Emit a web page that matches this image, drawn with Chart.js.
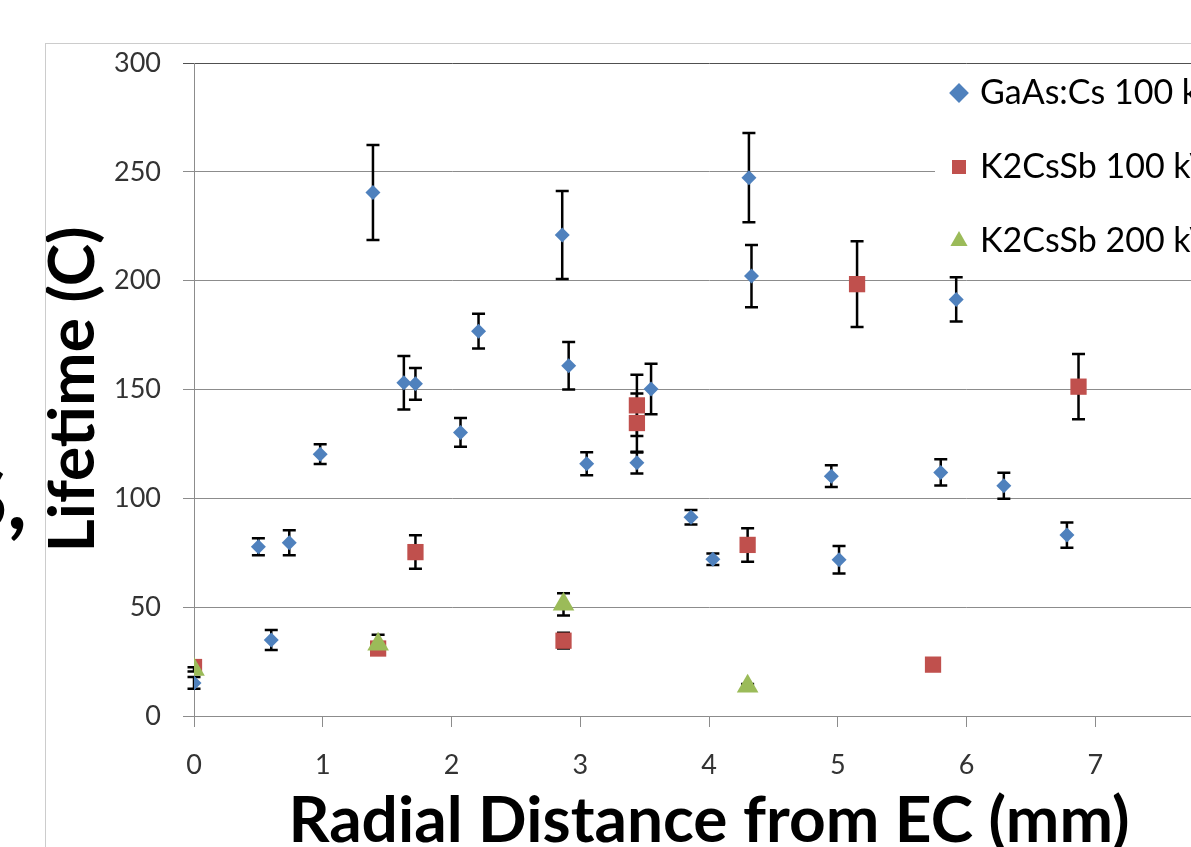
<!DOCTYPE html>
<html lang="en">
<head>
    <meta charset="UTF-8">
    <title>Lifetime vs Radial Distance</title>
    <script src="https://cdn.jsdelivr.net/npm/chart.js"></script>
    <style>
        html, body {
            margin: 0;
            width: 1191px;
            height: 847px;
            overflow: hidden;
            background: #fff;
            font-family: Lato, sans-serif;
        }
        #side {
            position: absolute;
            left: -100px;
            width: 127px;
            top: 455px;
            text-align: right;
            font-size: 84px;
            font-weight: bold;
            line-height: 84px;
            color: #000;
        }
        #wrap {
            position: absolute;
            left: 45px;
            top: 43px;
            border-left: 1px solid #cccccc;
            border-top: 1px solid #cccccc;
        }
        canvas {
            display: block;
        }
    </style>
</head>
<body>

<div id="side">S,</div>
<div id="wrap"><canvas id="myChart" width="1300" height="820"></canvas></div>

<script>
    // GaAs:Cs 100 kV
    const gaasX   = [0.00, 0.50, 0.60, 0.74, 0.98, 1.39, 1.63, 1.72, 2.07, 2.21, 2.86, 2.91, 3.05, 3.44, 3.55, 3.86, 4.03, 4.31, 4.33, 4.95, 5.01, 5.80, 5.92, 6.29, 6.78];
    const gaasY   = [15.2, 77.8, 34.9, 79.6, 120.3, 240.5, 153.1, 152.6, 130.3, 176.8, 221.0, 160.9, 115.9, 116.4, 150.2, 91.3, 72.0, 247.3, 202.1, 110.2, 71.8, 111.9, 191.4, 105.8, 83.1];
    const gaasErr = [2.7, 3.9, 4.6, 5.7, 4.5, 21.8, 12.3, 7.3, 6.6, 8.0, 20.2, 10.9, 5.3, 5.0, 11.6, 3.3, 2.6, 20.5, 14.3, 5.0, 6.3, 6.0, 10.2, 6.0, 5.8];

    // K2CsSb 100 kV
    const k100X   = [0.00, 1.43, 1.72, 2.87, 3.44, 3.44, 4.30, 5.15, 5.74, 6.87];
    const k100Y   = [22.5, 31.0, 75.3, 34.6, 142.7, 134.6, 78.6, 198.4, 23.6, 151.3];
    const k100Err = [0, 2, 7.7, 3.6, 14.1, 13.6, 7.7, 19.7, 0, 15.0];

    // K2CsSb 200 kV
    const k200X   = [0.00, 1.43, 2.87, 4.30];
    const k200Y   = [21.4, 33.0, 51.3, 13.7];
    const k200Err = [1, 4.3, 5.1, 1];

    const seriesNames = ['GaAs:Cs 100 kV', 'K2CsSb 100 kV', 'K2CsSb 200 kV'];
    const xTitle = 'Radial Distance from EC (mm)';
    const yTitle = 'Lifetime (C)';

    function toPoints(xs, ys) {
        return xs.map((x, i) => ({ x: x, y: ys[i] }));
    }

    // error bars, drawn under the markers
    const errorBars = {
        id: 'errorBars',
        beforeDatasetsDraw(chart) {
            const ctx = chart.ctx;
            const yScale = chart.scales.y;
            ctx.save();
            ctx.strokeStyle = '#000';
            ctx.lineWidth = 2.5;
            chart.data.datasets.forEach((ds, i) => {
                const meta = chart.getDatasetMeta(i);
                meta.data.forEach((pt, j) => {
                    const e = ds.errors[j];
                    if (!e) return;
                    const v = ds.data[j].y;
                    const top = yScale.getPixelForValue(v + e);
                    const bot = yScale.getPixelForValue(v - e);
                    ctx.beginPath();
                    ctx.moveTo(pt.x, top);
                    ctx.lineTo(pt.x, bot);
                    ctx.moveTo(pt.x - 6.5, top);
                    ctx.lineTo(pt.x + 6.5, top);
                    ctx.moveTo(pt.x - 6.5, bot);
                    ctx.lineTo(pt.x + 6.5, bot);
                    ctx.stroke();
                });
            });
            ctx.restore();
        }
    };

    // legend sits over the top right of the plot, on a white box
    const LEGEND_BOX_X = 889;
    const LEGEND_BOX_BOTTOM = 218;
    const legendPlacer = {
        id: 'legendPlacer',
        afterInit(chart) {
            const legend = chart.legend;
            const draw = legend.draw.bind(legend);
            legend.draw = function () {
                const ctx = chart.ctx;
                const top = chart.chartArea.top + 1;
                ctx.save();
                ctx.fillStyle = '#fff';
                ctx.fillRect(LEGEND_BOX_X, top, chart.width - LEGEND_BOX_X, LEGEND_BOX_BOTTOM - top);
                ctx.restore();
                draw();
            };
        },
        afterLayout(chart) {
            const lg = chart.legend;
            lg.left = 869;
            lg.top = -8;
            lg.right = chart.width;
            lg.bottom = 400;
            lg.width = lg.right - lg.left;
            lg.height = lg.bottom - lg.top;
        }
    };

    Chart.defaults.font.family = 'Lato';

    const ctx = document.getElementById('myChart').getContext('2d');
    const chart = new Chart(ctx, {
        type: 'scatter',
        data: {
            datasets: [{
                label: seriesNames[0],
                data: toPoints(gaasX, gaasY),
                errors: gaasErr,
                pointStyle: 'rectRot',
                pointRadius: 7.5,
                backgroundColor: '#4F81BD',
                borderColor: '#4F81BD',
                pointBackgroundColor: '#4F81BD',
                pointBorderColor: '#4F81BD',
                pointBorderWidth: 0,
                order: 3
            }, {
                label: seriesNames[1],
                data: toPoints(k100X, k100Y),
                errors: k100Err,
                pointStyle: 'rect',
                pointRadius: 11.5,
                backgroundColor: '#C0504D',
                borderColor: '#C0504D',
                pointBackgroundColor: '#C0504D',
                pointBorderColor: '#C0504D',
                pointBorderWidth: 0,
                order: 2
            }, {
                label: seriesNames[2],
                data: toPoints(k200X, k200Y),
                errors: k200Err,
                pointStyle: 'triangle',
                pointRadius: 12.5,
                backgroundColor: '#9BBB59',
                borderColor: '#9BBB59',
                pointBackgroundColor: '#9BBB59',
                pointBorderColor: '#9BBB59',
                pointBorderWidth: 0,
                order: 1
            }]
        },
        options: {
            responsive: false,
            animation: false,
            layout: {
                padding: { left: 0, top: 19, right: 122, bottom: 0 }
            },
            plugins: {
                tooltip: { enabled: false },
                legend: {
                    position: 'chartArea',
                    align: 'start',
                    labels: {
                        usePointStyle: true,
                        boxWidth: 8,
                        boxHeight: 14,
                        padding: 40,
                        color: '#000',
                        font: { size: 34 },
                        sort: (a, b) => a.datasetIndex - b.datasetIndex
                    }
                }
            },
            scales: {
                x: {
                    type: 'linear',
                    min: 0,
                    max: 8,
                    ticks: {
                        stepSize: 1,
                        color: '#333',
                        padding: 22,
                        font: { size: 27 }
                    },
                    grid: {
                        drawOnChartArea: false,
                        drawTicks: true,
                        tickLength: 11,
                        color: '#8c8c8c'
                    },
                    border: { color: '#8c8c8c' },
                    title: {
                        display: true,
                        text: xTitle,
                        color: '#000',
                        font: { size: 64, weight: 'bold', lineHeight: 1 },
                        padding: { top: 0, bottom: 11 }
                    },
                    afterFit(scale) {
                        scale.height = 148;
                        scale.paddingLeft = 0;
                        scale.paddingRight = 0;
                    }
                },
                y: {
                    min: 0,
                    max: 300,
                    ticks: {
                        stepSize: 50,
                        color: '#333',
                        padding: 22,
                        font: { size: 27 }
                    },
                    grid: {
                        tickLength: 11,
                        color: (c) => (c.tick && c.tick.value === 300) ? '#505050' : '#8c8c8c'
                    },
                    border: { color: '#8c8c8c' },
                    title: {
                        display: true,
                        text: yTitle,
                        color: '#000',
                        font: { size: 64, weight: 'bold', lineHeight: 0.87 },
                        padding: 0
                    },
                    afterFit(scale) {
                        scale.width = 148;
                        scale.paddingTop = 0;
                        scale.paddingBottom = 0;
                    }
                }
            }
        },
        plugins: [errorBars, legendPlacer]
    });
</script>

</body>
</html>
